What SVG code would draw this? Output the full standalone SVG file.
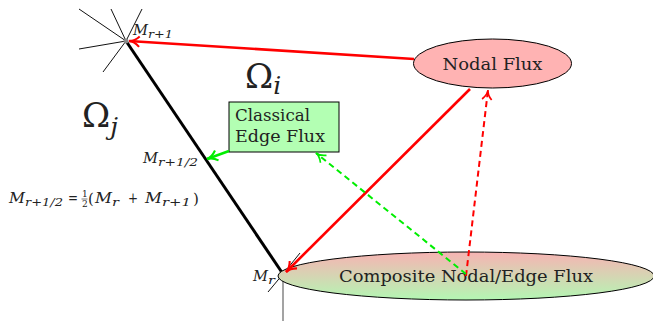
<svg xmlns="http://www.w3.org/2000/svg" width="653" height="321" viewBox="0 0 653 321">
<style>
text{font-family:"DejaVu Serif",serif;fill:#222}
.it{font-style:italic}
.f{font-size:15px}
.s{font-size:11px;font-style:italic}
.thin{stroke:#111;stroke-width:1;fill:none}
.red{stroke:#ff0000;stroke-width:2.6;fill:none}
.green{stroke:#00ee00;stroke-width:2.6;fill:none}
.rdash{stroke:#ff0000;stroke-width:2;stroke-dasharray:6,4;fill:none}
.gdash{stroke:#00ee00;stroke-width:2;stroke-dasharray:6,4;fill:none}
</style>
<defs>
<marker id="ar" viewBox="0 0 10 10" refX="9" refY="5" markerWidth="5" markerHeight="5" orient="auto" markerUnits="strokeWidth"><path d="M1,1 Q5,5 9,5 Q5,5 1,9" stroke="#ff0000" stroke-width="1.6" fill="none"/></marker>
<marker id="ag" viewBox="0 0 10 10" refX="9" refY="5" markerWidth="5" markerHeight="5" orient="auto" markerUnits="strokeWidth"><path d="M1,1 Q5,5 9,5 Q5,5 1,9" stroke="#00ee00" stroke-width="1.6" fill="none"/></marker>
<marker id="ard" viewBox="0 0 10 10" refX="9" refY="5" markerWidth="6" markerHeight="6" orient="auto" markerUnits="strokeWidth"><path d="M1,1 Q5,5 9,5 Q5,5 1,9" stroke="#ff0000" stroke-width="1.4" fill="none"/></marker>
<marker id="agd" viewBox="0 0 10 10" refX="9" refY="5" markerWidth="6" markerHeight="6" orient="auto" markerUnits="strokeWidth"><path d="M1,1 Q5,5 9,5 Q5,5 1,9" stroke="#00ee00" stroke-width="1.4" fill="none"/></marker>
<linearGradient id="cg" x1="0" y1="0" x2="0" y2="1"><stop offset="0" stop-color="#f7b3b3"/><stop offset="1" stop-color="#b3f7b3"/></linearGradient>
</defs>

<g id="mesh">
<line class="thin" x1="126" y1="41" x2="79" y2="9"/>
<line class="thin" x1="126" y1="41" x2="111" y2="9"/>
<line class="thin" x1="126" y1="41" x2="142" y2="9"/>
<line class="thin" x1="126" y1="41" x2="79" y2="49"/>
<line class="thin" x1="126" y1="41" x2="103" y2="72"/>
<line x1="126" y1="41" x2="283" y2="274" stroke="#000" stroke-width="3"/>
<line class="thin" x1="283" y1="274" x2="300" y2="253"/>
<line class="thin" x1="283" y1="274" x2="268" y2="292"/>
<line x1="283" y1="274" x2="283" y2="321" stroke="#666" stroke-width="1.2"/>
<circle cx="126" cy="41" r="2.5" fill="#888"/>
</g>

<g id="composite">
<ellipse cx="466" cy="276" rx="188" ry="24" fill="url(#cg)" stroke="#000" stroke-width="1"/>
<text x="466" y="282" font-size="16" text-anchor="middle" textLength="254" lengthAdjust="spacingAndGlyphs">Composite Nodal/Edge Flux</text>
</g>

<g id="nodal">
<ellipse cx="492.5" cy="63.5" rx="79" ry="24.5" fill="#ffb3b3" stroke="#000" stroke-width="1"/>
<text x="492.5" y="70" font-size="16" text-anchor="middle" textLength="100" lengthAdjust="spacingAndGlyphs">Nodal Flux</text>
</g>

<g id="classical">
<rect x="229" y="102" width="110" height="50" fill="#b3ffb3" stroke="#000" stroke-width="1"/>
<text x="235" y="121" font-size="16" textLength="75" lengthAdjust="spacingAndGlyphs">Classical</text>
<text x="235" y="142" font-size="16" textLength="90" lengthAdjust="spacingAndGlyphs">Edge Flux</text>
</g>

<g id="connectors">
<line class="red" x1="414" y1="59" x2="129" y2="41" marker-end="url(#ar)"/>
<line class="red" x1="470" y1="89" x2="286" y2="272" marker-end="url(#ar)"/>
<line class="green" x1="229" y1="151" x2="207" y2="159" marker-end="url(#ag)"/>
<line class="rdash" x1="466" y1="276" x2="488" y2="90" marker-end="url(#ard)"/>
<line class="gdash" x1="466" y1="274" x2="316" y2="153" marker-end="url(#agd)"/>
</g>

<g id="labels">
<text x="245" y="88" font-size="34">Ω<tspan class="it" font-size="25" dy="6">i</tspan></text>
<text x="82" y="127" font-size="34">Ω<tspan class="it" font-size="25" dy="8">j</tspan></text>
<text class="it f" x="133" y="35" textLength="15" lengthAdjust="spacingAndGlyphs">M</text><text class="s" x="148" y="38" textLength="25" lengthAdjust="spacingAndGlyphs">r+1</text>
<text class="it f" x="143" y="163" textLength="15" lengthAdjust="spacingAndGlyphs">M</text><text class="s" x="158" y="166" textLength="40" lengthAdjust="spacingAndGlyphs">r+1/2</text>
<text class="it f" x="253" y="281" textLength="15" lengthAdjust="spacingAndGlyphs">M</text><text class="s" x="268" y="284" textLength="7" lengthAdjust="spacingAndGlyphs">r</text>
</g>

<g id="formula">
<text class="it f" x="9" y="203" textLength="16" lengthAdjust="spacingAndGlyphs">M</text><text class="s" x="25" y="206" textLength="38" lengthAdjust="spacingAndGlyphs">r+1/2</text>
<text class="f" x="68" y="203" textLength="10" lengthAdjust="spacingAndGlyphs">=</text>
<text x="82" y="197" font-size="9">1</text>
<line x1="81.5" y1="199" x2="87.5" y2="199" stroke="#222" stroke-width="0.6"/>
<text x="82" y="207" font-size="9">2</text>
<text class="f" x="88" y="204">(</text>
<text class="it f" x="95" y="203" textLength="17" lengthAdjust="spacingAndGlyphs">M</text><text class="s" x="112" y="206" textLength="7" lengthAdjust="spacingAndGlyphs">r</text>
<text class="f" x="128" y="203" textLength="10" lengthAdjust="spacingAndGlyphs">+</text>
<text class="it f" x="145" y="203" textLength="17" lengthAdjust="spacingAndGlyphs">M</text><text class="s" x="162" y="206" textLength="29" lengthAdjust="spacingAndGlyphs">r+1</text>
<text class="f" x="193" y="204">)</text>
</g>
</svg>
